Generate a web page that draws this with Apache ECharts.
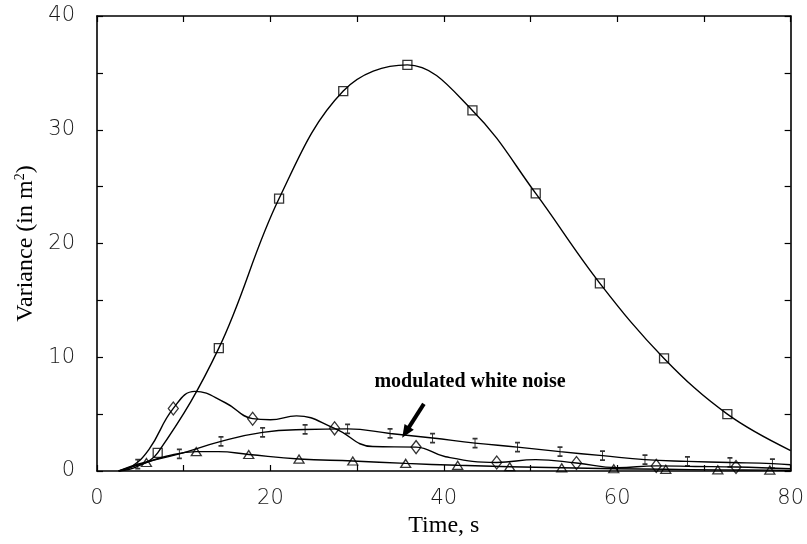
<!DOCTYPE html>
<html>
<head>
<meta charset="utf-8">
<script src="https://cdn.jsdelivr.net/npm/echarts@6/dist/echarts.min.js"></script>
<style>
  html, body { margin: 0; padding: 0; background: #fff; }
  #chart { width: 807px; height: 544px; }
</style>
</head>
<body>
<div id="chart"></div>
<script>
// Axis ticks
const xTicks = [0, 20, 40, 60, 80];
const yTicks = [0, 10, 20, 30, 40];

// Square-marked response: marker points and extra points along the curve
const squareMarks = [[7.0,1.6],[14.05,10.8],[21.0,23.95],[28.4,33.4],[35.8,35.7],[43.3,31.7],[50.6,24.4],[58.0,16.5],[65.4,9.9],[72.7,5.0]];
const squareCurve = [[2.5,0],[4.5,0.35],[80,1.8]];

// Diamond-marked response
const diamondMarks = [[8.8,5.5],[17.95,4.6],[27.4,3.75],[36.8,2.1],[46.1,0.75],[55.3,0.7],[64.5,0.45],[73.7,0.35]];
const diamondCurve = [[2.5,0],[4.0,0.4],[6.0,1.9],[11.3,7.0],[14.8,6.0],[20.0,4.5],[23.0,4.85],[31.8,2.15],[40.2,1.25],[50.6,1.0],[60,0.3],[69,0.4],[80,0.2]];

// Triangle-marked response
const triangleMarks = [[5.7,0.75],[11.45,1.7],[17.5,1.45],[23.3,1.05],[29.5,0.88],[35.6,0.67],[41.6,0.5],[47.6,0.38],[53.6,0.28],[59.6,0.2],[65.6,0.15],[71.6,0.1],[77.6,0.08]];
const triangleCurve = [[2.5,0],[8.0,1.3],[14.0,1.7],[80,0.05]];

// Modulated white noise (error-bar markers)
const noiseMarks = [[4.7,0.6],[9.5,1.5],[14.3,2.6],[19.1,3.4],[24.0,3.65],[28.9,3.7],[33.8,3.3],[38.7,2.9],[43.6,2.45],[48.5,2.1],[53.4,1.7],[58.3,1.35],[63.2,1.0],[68.1,0.85],[73.0,0.75],[77.9,0.65]];
const noiseCurve = [[2.5,0],[80,0.55]];

// Annotation: label anchor and arrow (tail -> tip)
const noteText = 'modulated white noise';
const noteAt = [32.0, 7.7];
const arrowFrom = [37.7, 5.9];
const arrowTo = [35.6, 3.4];

function merged(marks, extra) {
  return marks.concat(extra).sort((a, b) => a[0] - b[0]);
}

const serif = '"Liberation Serif", "DejaVu Serif", serif';
const tickFont = '"DejaVu Sans", sans-serif';
const ink = '#000';

function curve(name, marks, extra, smooth) {
  return {
    name: name, type: 'line', data: merged(marks, extra),
    smooth: smooth, showSymbol: false, symbol: 'none',
    lineStyle: { color: ink, width: 1.4 }, silent: true, z: 2
  };
}
function markers(name, marks, symbol, size) {
  return {
    name: name, type: 'scatter', data: marks, symbol: symbol, symbolSize: size,
    itemStyle: { color: 'rgba(255,255,255,0)', borderColor: ink, borderWidth: 1.3 },
    silent: true, z: 3
  };
}

const axisCommon = {
  type: 'value', min: 0,
  axisLine: { show: true, onZero: false, lineStyle: { color: ink, width: 1.6 } },
  axisTick: { show: true, inside: true, length: 6, lineStyle: { color: ink, width: 1.2 } },
  minorTick: { show: true, splitNumber: 2, length: 6, lineStyle: { color: ink, width: 1.2 } },
  splitLine: { show: false }
};
const tickLabel = { fontFamily: tickFont, fontSize: 21, color: '#1a1a1a', fontWeight: 200 };

const chart = echarts.init(document.getElementById('chart'), null, { renderer: 'canvas' });
chart.setOption({
  animation: false,
  backgroundColor: '#fff',
  grid: { left: 97, right: 16, top: 16, bottom: 73 },
  xAxis: [
    Object.assign({}, axisCommon, {
      position: 'bottom', max: xTicks[xTicks.length - 1], interval: xTicks[1] - xTicks[0],
      name: 'Time, s', nameLocation: 'middle', nameGap: 39,
      nameTextStyle: { fontFamily: serif, fontSize: 24, color: ink },
      axisLabel: Object.assign({ margin: 17 }, tickLabel)
    }),
    Object.assign({}, axisCommon, {
      position: 'top', max: xTicks[xTicks.length - 1], interval: xTicks[1] - xTicks[0],
      axisLabel: { show: false }
    })
  ],
  yAxis: [
    Object.assign({}, axisCommon, {
      position: 'left', max: yTicks[yTicks.length - 1], interval: yTicks[1] - yTicks[0],
      name: '{t|Variance (in m}{s|2}{t|)}', nameLocation: 'middle', nameGap: 51, nameRotate: 90,
      nameTextStyle: { rich: {
        t: { fontFamily: serif, fontSize: 24, color: ink },
        s: { fontFamily: serif, fontSize: 14, color: ink, verticalAlign: 'top', padding: [0, 0, 10, 0] }
      } },
      axisLabel: Object.assign({ margin: 22 }, tickLabel)
    }),
    Object.assign({}, axisCommon, {
      position: 'right', max: yTicks[yTicks.length - 1], interval: yTicks[1] - yTicks[0],
      axisLabel: { show: false }
    })
  ],
  series: [
    curve('square', squareMarks, squareCurve, 0.38),
    markers('square-m', squareMarks, 'rect', 9),
    curve('diamond', diamondMarks, diamondCurve, 0.45),
    markers('diamond-m', diamondMarks, 'diamond', [10, 13]),
    curve('triangle', triangleMarks, triangleCurve, 0.45),
    markers('triangle-m', triangleMarks, 'triangle', [10, 8]),
    curve('noise', noiseMarks, noiseCurve, 0.45),
    markers('noise-m', noiseMarks, 'path://M0,0L4,0M2,0L2,10M0,10L4,10', [5, 9]),
    {
      name: 'arrow', type: 'line', data: [], silent: true, z: 4,
      markLine: {
        silent: true, symbol: ['none', 'triangle'], symbolSize: [11, 13],
        lineStyle: { color: ink, width: 4, type: 'solid' },
        label: { show: false },
        data: [[{ coord: arrowFrom }, { coord: arrowTo }]]
      }
    }
  ]
});

const p = chart.convertToPixel({ xAxisIndex: 0, yAxisIndex: 0 }, noteAt);
chart.setOption({
  graphic: [{
    type: 'text', left: p[0], top: p[1] - 12, silent: true,
    style: { text: noteText, font: 'bold 20px ' + serif, fill: ink }
  }]
});
</script>
</body>
</html>
